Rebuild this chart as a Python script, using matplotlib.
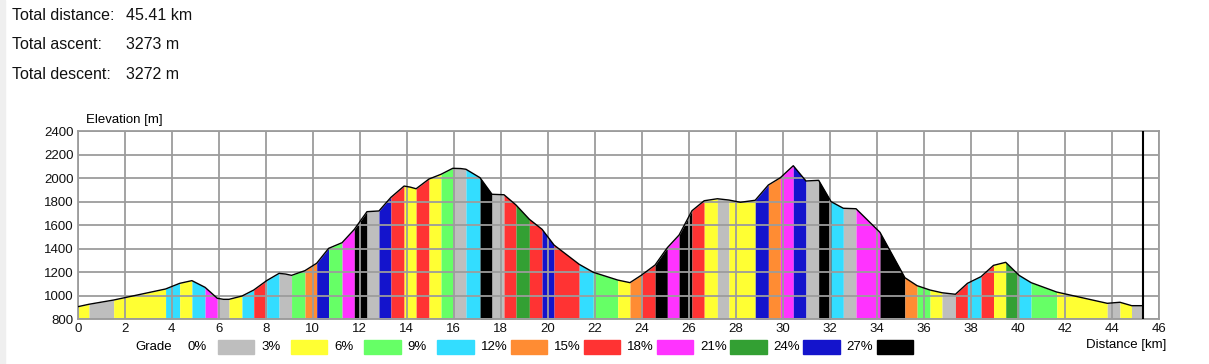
import numpy as np
import matplotlib
matplotlib.use("Agg")
import matplotlib.pyplot as plt
from matplotlib.patches import Rectangle

plt.rcParams['font.family'] = ['Liberation Sans', 'DejaVu Sans']

# summary
summary_labels = ["Total distance:", "Total ascent:", "Total descent:"]
summary_values = ["45.41 km", "3273 m", "3272 m"]

# elevation profile (km, m)
profile_km = [0.00, 0.48, 1.53, 3.74, 4.34, 4.86, 5.42, 5.94, 6.20, 6.44, 6.99, 7.49,
              8.04, 8.57, 8.85, 9.10, 9.67, 10.17, 10.68, 11.25, 11.77, 12.31, 12.82,
              13.33, 13.89, 14.15, 14.40, 14.95, 15.46, 15.96, 16.30, 16.52, 17.12,
              17.63, 18.14, 18.65, 19.22, 19.76, 20.27, 21.34, 21.94, 22.98, 23.50,
              24.00, 24.57, 25.09, 25.59, 26.14, 26.66, 27.22, 27.71, 28.20, 28.83,
              29.39, 29.90, 30.45, 30.99, 31.53, 32.06, 32.58, 33.12, 34.14, 35.20,
              35.72, 36.27, 36.78, 37.35, 37.86, 38.44, 38.97, 39.49, 40.06, 40.57,
              41.66, 43.81, 44.35, 44.85, 45.34]
profile_m = [907, 928, 964, 1058, 1106, 1129, 1072, 979, 970, 970, 998, 1049,
             1129, 1191, 1185, 1174, 1214, 1277, 1404, 1452, 1565, 1716, 1722,
             1838, 1934, 1925, 1911, 1994, 2034, 2085, 2083, 2077, 2005,
             1864, 1860, 1773, 1651, 1566, 1432, 1268, 1200, 1134, 1112,
             1177, 1262, 1409, 1517, 1724, 1809, 1826, 1815, 1796, 1813,
             1943, 2005, 2107, 1977, 1983, 1801, 1745, 1741, 1540, 1154,
             1086, 1049, 1026, 1013, 1106, 1163, 1259, 1285, 1174, 1112,
             1032, 936, 945, 916, 916]

# grade classes: 0 gray, 1 yellow, 2 green, 3 cyan, 4 orange, 5 red,
# 6 magenta, 7 dark green, 8 blue, 9 black
seg_edges = [0.00, 0.48, 1.53, 3.74, 4.34, 4.86, 5.42, 5.94, 6.44, 6.99, 7.49, 8.04,
             8.57, 9.10, 9.67, 10.17, 10.68, 11.25, 11.77, 12.31, 12.82, 13.33, 13.89,
             14.40, 14.95, 15.46, 15.96, 16.52, 17.12, 17.63, 18.14, 18.65, 19.22,
             19.76, 20.27, 21.34, 21.94, 22.98, 23.50, 24.00, 24.57, 25.09, 25.59,
             26.14, 26.66, 27.22, 27.71, 28.83, 29.39, 29.90, 30.45, 30.99, 31.53,
             32.06, 32.58, 33.12, 34.14, 35.20, 35.72, 36.27, 36.78, 37.35, 37.86,
             38.44, 38.97, 39.49, 40.06, 40.57, 41.66, 43.81, 44.35, 44.85, 45.34]
seg_class = [1, 0, 1, 3, 1, 3, 6, 0, 1, 3, 5, 3,
             0, 2, 4, 8, 2, 6, 9, 0, 8, 5,
             1, 5, 1, 2, 0, 3, 9, 0, 5, 7,
             5, 8, 5, 3, 2, 1, 4, 5, 9, 6,
             9, 5, 1, 0, 1, 8, 4, 6, 8, 0,
             9, 3, 0, 6, 9, 4, 2, 1, 0, 5,
             3, 5, 1, 7, 3, 2, 1, 0, 1, 0]

grade_labels = ["0%", "3%", "6%", "9%", "12%", "15%", "18%", "21%", "24%", "27%"]
grade_colors = ["#bebebe", "#ffff33", "#66ff66", "#33ddff", "#ff8c33",
                "#ff3333", "#ff33ff", "#33a033", "#1414cc", "#000000"]

W, H = 1209, 364
fig = plt.figure(figsize=(W / 100, H / 100), dpi=100)
fig.patches.append(Rectangle((0, 0), 5 / W, 1, transform=fig.transFigure,
                             color="#efefef", zorder=0))

for i, (lab, val) in enumerate(zip(summary_labels, summary_values)):
    y = 1 - (15.5 + 29.3 * i) / H
    fig.text(12.5 / W, y, lab, fontsize=11.5, va="center", ha="left", color="#111111")
    fig.text(126.5 / W, y, val, fontsize=11.5, va="center", ha="left", color="#111111")

ax = fig.add_axes([77.7 / W, (H - 319.3) / H, 1081 / W, 188 / H])
pk = np.array(profile_km)
pm = np.array(profile_m)
for a, b, c in zip(seg_edges[:-1], seg_edges[1:], seg_class):
    inner = pk[(pk > a) & (pk < b)]
    xs = np.concatenate([[a], inner, [b]])
    ys = np.interp(xs, pk, pm)
    ax.fill_between(xs, 800, ys, color=grade_colors[c], lw=0, zorder=1)
ax.plot(pk, pm, color="black", lw=1.0, zorder=3)
ax.axvline(pk[-1], color="black", lw=1.5, zorder=4)

ax.set_xlim(0, 46)
ax.set_ylim(800, 2400)
ax.set_xticks(np.arange(0, 47, 2))
ax.set_yticks(np.arange(800, 2401, 200))
ax.set_axisbelow(False)
ax.grid(True, color="#9c9c9c", lw=1.3)
for s in ax.spines.values():
    s.set_color("#9c9c9c")
    s.set_linewidth(1.3)
ax.tick_params(length=0, pad=3, labelsize=9.5, colors="#111111")

fig.text(86 / W, 1 - 120 / H, "Elevation [m]", fontsize=9.5, va="center", ha="left")
fig.text(1166 / W, 1 - 345 / H, "Distance [km]", fontsize=9.5, va="center", ha="right")

# legend
ly = 1 - 347 / H
fig.text(135 / W, ly, "Grade", fontsize=9.5, va="center", ha="left")
for k, (lab, col) in enumerate(zip(grade_labels, grade_colors)):
    fig.text((188 + 73.2 * k) / W, ly, lab, fontsize=9.5, va="center", ha="left")
    fig.patches.append(Rectangle(((217.7 + 73.2 * k) / W, 1 - 354 / H), 36.5 / W, 14 / H,
                                 transform=fig.transFigure, color=col))

fig.savefig("out.png", dpi=100)
